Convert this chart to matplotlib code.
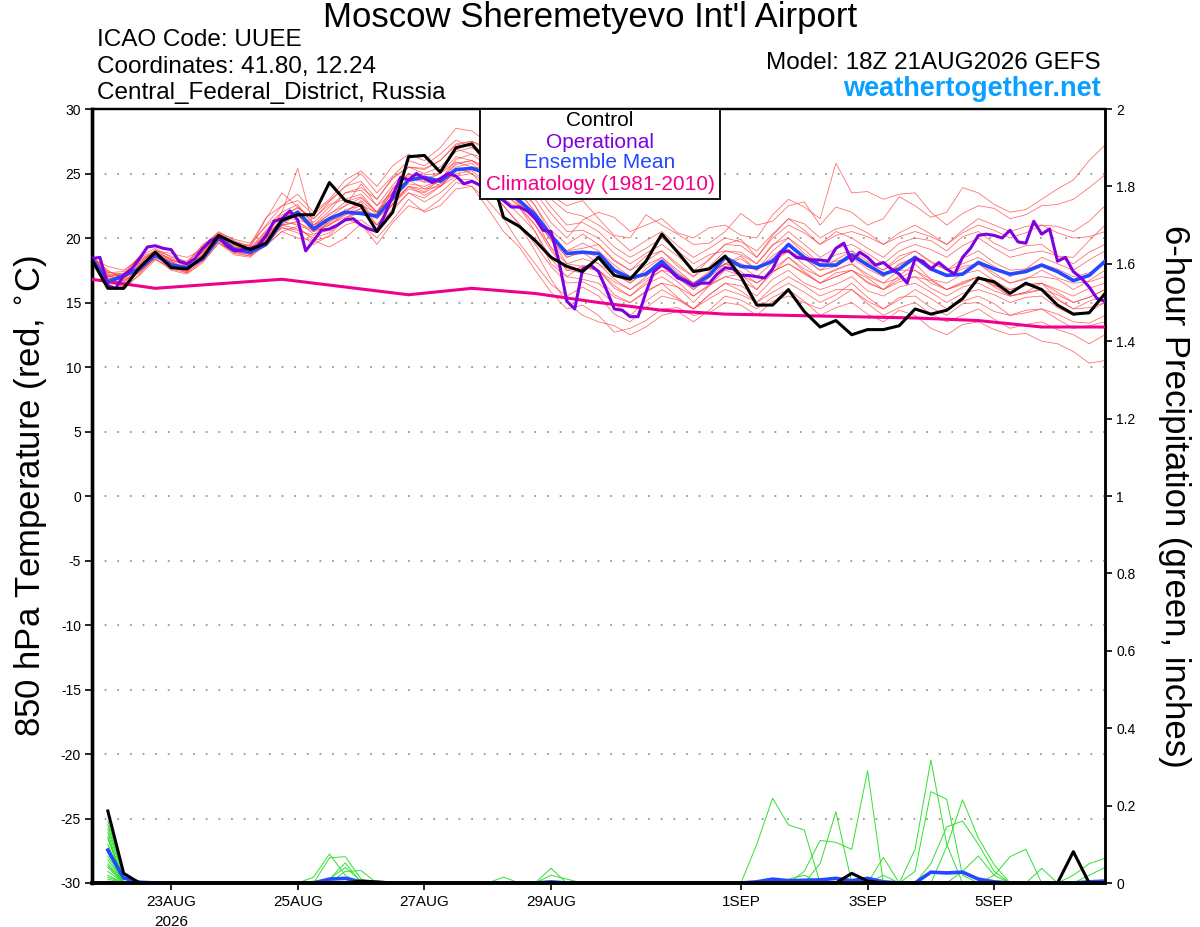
import numpy as np
import matplotlib
matplotlib.use('Agg')
import matplotlib.pyplot as plt
from matplotlib.patches import Rectangle

plt.rcParams['font.family'] = ['Liberation Sans', 'DejaVu Sans']
plt.rcParams['axes.unicode_minus'] = False

# ---------------------------------------------------------------- #
#   data (hours after 18Z 21AUG2026)
# ---------------------------------------------------------------- #
hrs6 = np.arange(0, 385, 6)
hrs3 = np.arange(0, 385, 3)
hrs24 = np.arange(0, 385, 24)

control = [18.3, 16.1, 16.1, 17.7, 18.9, 17.7, 17.6, 18.5, 20.2, 19.6,
           19.1, 19.6, 21.4, 21.8, 21.8, 24.3, 22.9, 22.5, 20.5, 22.0,
           26.3, 26.4, 25.1, 27.0, 27.3, 25.8, 21.6, 20.9, 19.8, 18.5,
           17.8, 17.4, 18.5, 17.1, 16.8, 18.2, 20.3, 18.9, 17.4, 17.6,
           18.6, 17.0, 14.8, 14.8, 16.0, 14.3, 13.1, 13.6, 12.5, 12.9,
           12.9, 13.2, 14.5, 14.1, 14.4, 15.3, 16.9, 16.6, 15.7, 16.5,
           16.0, 14.8, 14.1, 14.2, 15.7]

ens_mean = [18.4, 16.6, 17.1, 17.6, 18.7, 17.9, 17.7, 18.4, 20.0, 19.1,
            18.9, 19.5, 21.3, 22.0, 20.7, 21.5, 22.0, 21.9, 21.7, 23.1,
            24.5, 24.7, 24.4, 25.3, 25.4, 25.0, 23.8, 22.9, 21.8, 20.2,
            18.8, 18.9, 18.8, 17.5, 16.9, 17.2, 18.2, 17.0, 16.3, 17.1,
            18.5, 17.8, 17.7, 18.2, 19.5, 18.5, 17.9, 17.9, 18.7, 17.9,
            17.2, 17.6, 18.5, 17.6, 17.1, 17.2, 18.1, 17.6, 17.2, 17.4,
            17.9, 17.4, 16.7, 17.1, 18.2]

operational = [18.4, 18.5, 16.3, 16.1, 17.1, 17.6, 18.4, 19.3, 19.4, 19.2,
               19.1, 18.2, 18.0, 18.4, 19.2, 19.8, 20.1, 19.4, 19.0, 19.1,
               19.2, 19.4, 20.2, 21.3, 21.5, 22.1, 21.4, 19.0, 19.8, 20.6,
               20.7, 21.0, 21.4, 21.5, 21.0, 20.7, 20.5, 21.8, 23.3, 24.7,
               24.5, 25.0, 24.6, 24.3, 24.6, 25.0, 24.8, 24.2, 24.4, 24.1,
               24.3, 23.3, 22.9, 22.4, 22.4, 22.1, 21.5, 20.6, 20.5, 18.2,
               15.1, 14.5, 17.6, 17.9, 17.4, 16.0, 14.5, 14.4, 13.9, 13.9,
               15.8, 17.4, 17.9, 17.5, 16.9, 16.7, 16.3, 16.5, 16.5, 17.2,
               17.7, 17.6, 17.1, 17.1, 17.0, 16.9, 17.6, 18.9, 19.0, 18.5,
               18.4, 18.3, 18.3, 18.2, 19.2, 19.6, 18.2, 18.9, 18.5, 17.9,
               18.1, 17.6, 17.2, 16.5, 18.4, 18.2, 17.6, 18.1, 17.6, 17.2,
               18.5, 19.2, 20.2, 20.3, 20.2, 20.0, 20.6, 19.7, 19.6, 21.3,
               20.3, 20.7, 18.2, 18.5, 17.4, 16.9, 16.2, 15.3, 15.1]

climatology = [16.8, 16.1, 16.45, 16.8, 16.2, 15.6, 16.1, 15.7, 15.0,
               14.4, 14.1, 14.0, 13.9, 13.8, 13.6, 13.1, 13.1]

# ensemble members, 6-hourly (13 values per row)
members = [
    [18.3, 16.9, 16.5, 17.6, 18.9, 18.4, 18.0, 19.5, 20.3, 19.2, 19.5, 21.6, 22.5,
     23.4, 22.0, 23.0, 24.5, 25.2, 24.0, 25.6, 26.5, 26.0, 27.0, 28.5, 28.3, 27.4,
     26.0, 26.4, 25.0, 23.3, 22.5, 22.9, 21.5, 20.2, 20.0, 21.8, 21.0, 20.3, 19.5,
     19.6, 20.5, 21.9, 21.0, 21.3, 22.5, 22.8, 21.0, 22.4, 22.0, 21.0, 21.5, 23.2,
     22.5, 21.6, 22.0, 23.9, 23.5, 22.6, 22.0, 22.2, 23.0, 23.8, 24.5, 26.0, 27.2],
    [18.5, 17.4, 17.0, 18.2, 19.0, 18.8, 18.5, 19.1, 20.4, 19.9, 19.6, 20.9, 22.0,
     22.6, 21.0, 22.1, 23.5, 23.9, 23.0, 24.6, 25.5, 25.4, 26.0, 27.2, 27.5, 26.8,
     25.5, 24.6, 23.0, 21.2, 20.0, 21.4, 22.0, 21.6, 20.5, 21.0, 21.5, 20.4, 20.0,
     20.8, 21.0, 20.2, 20.0, 21.8, 23.0, 22.4, 21.5, 25.8, 23.5, 23.6, 23.0, 23.4,
     23.5, 22.0, 21.0, 21.9, 22.5, 22.3, 21.5, 21.8, 22.5, 22.6, 23.0, 23.9, 24.9],
    [18.2, 16.6, 16.2, 17.1, 18.3, 17.8, 17.3, 18.2, 19.6, 18.9, 18.6, 19.4, 20.5,
     20.9, 19.8, 20.1, 21.0, 21.4, 20.5, 22.3, 23.5, 22.8, 23.5, 24.6, 24.5, 23.9,
     22.5, 21.0, 19.0, 16.8, 15.0, 14.0, 13.5, 13.2, 12.5, 13.1, 14.0, 14.3, 13.5,
     14.4, 15.5, 15.2, 14.5, 15.4, 16.0, 15.1, 14.0, 14.6, 15.0, 14.1, 13.5, 14.4,
     14.0, 13.0, 12.5, 13.3, 13.5, 12.9, 12.5, 12.6, 12.0, 11.8, 11.2, 10.3, 10.5],
    [18.4, 17.0, 17.3, 18.0, 18.7, 18.1, 17.6, 18.6, 19.9, 19.4, 18.9, 19.8, 21.0,
     21.9, 20.5, 21.0, 22.0, 22.8, 21.0, 22.6, 24.0, 23.6, 24.5, 25.7, 26.0, 25.0,
     23.5, 22.4, 20.5, 18.0, 17.0, 17.9, 17.5, 16.1, 15.5, 16.4, 17.0, 16.2, 15.0,
     16.3, 17.5, 17.1, 16.5, 17.4, 18.0, 17.2, 16.5, 17.3, 17.5, 16.6, 16.0, 16.8,
     17.0, 16.1, 15.5, 16.2, 16.5, 15.9, 15.5, 15.8, 16.0, 15.2, 14.5, 15.1, 15.5],
    [18.6, 17.5, 16.8, 18.0, 19.1, 18.3, 17.9, 19.0, 20.2, 19.6, 19.2, 20.6, 21.8,
     22.3, 21.5, 22.6, 23.0, 23.4, 22.0, 23.8, 25.0, 24.6, 25.0, 26.9, 26.5, 26.1,
     25.0, 24.1, 22.5, 20.6, 19.5, 20.3, 19.5, 18.2, 17.5, 18.6, 19.0, 18.0, 17.0,
     18.4, 19.5, 19.4, 18.5, 20.0, 21.0, 20.4, 19.5, 20.5, 20.0, 19.2, 18.5, 19.6,
     20.0, 19.8, 19.0, 20.1, 20.5, 19.6, 19.0, 19.4, 19.5, 18.6, 18.0, 18.9, 19.5],
    [18.1, 16.3, 16.0, 17.2, 18.5, 17.9, 17.4, 18.6, 19.7, 18.8, 18.6, 20.0, 20.8,
     20.4, 19.5, 20.2, 21.5, 21.0, 20.0, 21.4, 23.0, 22.0, 22.5, 23.8, 24.0, 22.9,
     21.5, 19.6, 18.0, 16.4, 15.5, 16.2, 15.5, 14.1, 13.5, 14.6, 15.5, 15.2, 14.5,
     15.3, 16.0, 15.6, 15.0, 16.2, 17.0, 16.3, 15.5, 16.0, 16.0, 15.1, 14.5, 15.4,
     15.5, 14.6, 14.0, 14.9, 15.0, 14.3, 14.0, 14.4, 14.5, 13.7, 13.0, 13.2, 13.5],
    [18.4, 17.8, 17.5, 18.4, 18.9, 18.0, 17.8, 19.2, 20.1, 19.1, 19.0, 20.3, 22.0,
     25.4, 20.8, 21.9, 22.5, 24.2, 22.5, 23.5, 24.5, 24.8, 24.0, 25.2, 25.5, 25.1,
     24.5, 23.5, 22.0, 20.0, 18.5, 18.9, 18.0, 17.2, 16.5, 17.6, 18.5, 17.3, 16.5,
     17.2, 18.0, 18.4, 17.5, 18.6, 19.5, 18.4, 17.5, 18.3, 19.0, 17.9, 17.0, 18.0,
     18.5, 17.6, 17.0, 17.8, 18.0, 17.1, 16.5, 16.9, 17.0, 16.8, 16.0, 16.7, 17.5],
    [18.3, 16.6, 16.9, 17.8, 18.6, 18.2, 17.5, 18.5, 20.0, 19.3, 18.7, 19.6, 21.0,
     21.3, 20.3, 20.6, 21.5, 22.3, 21.5, 22.9, 24.0, 23.3, 24.0, 25.4, 25.0, 24.2,
     23.0, 22.3, 21.0, 19.0, 17.5, 17.3, 17.0, 15.6, 15.0, 15.9, 16.5, 15.4, 14.5,
     15.6, 16.5, 16.3, 15.5, 16.8, 17.5, 16.5, 16.0, 16.4, 17.0, 15.9, 15.5, 16.2,
     16.5, 15.8, 15.0, 15.7, 16.0, 15.6, 15.0, 15.4, 15.5, 14.6, 14.0, 14.3, 15.0],
    [18.5, 17.1, 17.2, 18.6, 19.2, 18.5, 18.2, 19.4, 20.5, 19.8, 19.3, 21.5, 23.5,
     22.4, 21.5, 22.8, 24.0, 25.0, 23.5, 24.8, 26.0, 25.6, 26.5, 27.6, 27.0, 26.7,
     26.0, 25.3, 24.0, 22.4, 21.0, 21.2, 20.5, 19.3, 18.5, 19.2, 20.0, 19.0, 18.0,
     18.7, 19.0, 18.9, 18.0, 19.4, 20.5, 19.5, 18.5, 19.2, 19.5, 18.8, 18.0, 19.0,
     19.5, 19.1, 18.5, 19.4, 20.0, 19.2, 18.5, 18.8, 19.0, 18.6, 18.5, 19.8, 21.0],
    [18.2, 16.8, 16.4, 17.4, 18.4, 17.6, 17.3, 18.3, 19.8, 18.9, 18.8, 19.5, 20.5,
     20.0, 19.8, 19.3, 20.0, 21.1, 19.5, 21.2, 22.5, 22.1, 23.0, 24.3, 24.0, 22.3,
     20.5, 19.3, 17.5, 15.8, 14.5, 14.8, 14.0, 12.7, 13.0, 13.6, 14.5, 14.6, 14.0,
     14.2, 15.0, 14.8, 14.0, 15.1, 15.5, 15.0, 14.5, 15.2, 16.0, 14.9, 14.0, 14.6,
     15.0, 14.1, 13.5, 14.0, 14.5, 13.7, 13.0, 13.3, 13.5, 12.9, 12.5, 11.8, 12.5],
    [18.6, 17.2, 17.0, 17.9, 18.8, 18.0, 17.7, 19.0, 20.2, 19.3, 19.1, 20.2, 21.5,
     22.1, 21.0, 21.6, 22.5, 23.1, 22.0, 23.5, 25.0, 24.3, 24.5, 25.8, 26.0, 25.3,
     24.0, 22.6, 21.5, 19.8, 18.5, 19.0, 18.5, 17.4, 16.5, 17.4, 18.0, 17.1, 16.0,
     17.2, 18.5, 18.0, 17.5, 18.4, 19.0, 17.9, 17.0, 17.6, 18.0, 17.2, 16.5, 17.5,
     17.5, 16.8, 16.5, 17.2, 17.5, 16.7, 16.0, 16.3, 16.5, 16.0, 15.5, 16.1, 16.5],
    [18.3, 16.4, 16.6, 17.7, 18.5, 18.1, 17.6, 18.7, 19.8, 19.2, 18.9, 20.4, 21.2,
     21.8, 20.5, 21.0, 21.8, 22.6, 21.5, 23.2, 24.5, 24.4, 25.0, 25.9, 25.5, 25.4,
     24.5, 23.8, 22.5, 20.2, 19.0, 19.6, 19.0, 17.9, 17.0, 17.9, 18.5, 17.5, 16.5,
     17.4, 18.0, 18.6, 17.5, 19.0, 20.0, 19.1, 18.0, 18.2, 18.5, 18.1, 17.5, 18.6,
     19.0, 18.2, 17.5, 18.4, 19.0, 18.1, 17.5, 17.6, 18.0, 17.6, 17.0, 17.3, 18.0],
    [18.4, 17.0, 17.1, 18.1, 18.9, 18.3, 17.9, 18.9, 20.1, 19.5, 19.0, 20.0, 21.5,
     22.4, 21.2, 22.4, 23.5, 23.7, 22.5, 24.1, 25.5, 25.0, 25.5, 26.7, 27.0, 26.2,
     25.0, 24.3, 23.5, 21.9, 20.5, 20.6, 20.0, 18.8, 18.0, 18.8, 19.5, 18.6, 17.5,
     18.3, 19.5, 19.9, 18.5, 20.2, 21.5, 20.6, 19.5, 20.2, 20.5, 20.1, 19.5, 20.4,
     21.0, 20.3, 19.5, 20.4, 21.0, 20.6, 20.0, 20.4, 21.0, 20.9, 20.5, 21.3, 22.5],
    [18.5, 16.9, 16.7, 17.5, 18.6, 17.9, 17.5, 18.4, 19.9, 19.0, 18.7, 19.8, 21.0,
     20.7, 20.0, 20.4, 21.5, 22.0, 21.0, 22.1, 23.5, 23.1, 24.0, 24.8, 25.0, 23.7,
     22.5, 21.1, 19.5, 17.8, 16.5, 16.6, 16.0, 14.9, 14.0, 15.1, 16.0, 15.3, 14.5,
     15.6, 16.5, 15.9, 15.0, 15.8, 16.5, 15.8, 15.0, 15.6, 16.5, 15.4, 14.5, 15.2,
     16.0, 15.3, 14.5, 15.1, 15.5, 14.9, 14.0, 14.2, 14.5, 14.1, 13.5, 13.4, 14.0],
    [18.2, 16.5, 16.3, 17.4, 18.4, 17.5, 17.2, 18.1, 19.6, 18.7, 18.5, 19.6, 20.8,
     20.6, 20.2, 21.3, 21.8, 22.3, 21.0, 22.7, 24.0, 23.8, 24.5, 26.1, 26.5, 25.6,
     24.5, 23.0, 21.5, 19.2, 17.5, 17.7, 17.5, 16.3, 15.5, 16.6, 17.5, 16.6, 15.5,
     16.4, 17.0, 17.2, 16.0, 17.3, 18.5, 17.4, 16.5, 17.0, 17.5, 16.5, 16.0, 17.1,
     18.0, 16.8, 16.0, 16.6, 17.0, 16.2, 15.5, 15.7, 16.0, 15.6, 15.0, 15.4, 16.0],
    [18.6, 17.3, 17.4, 18.5, 19.0, 18.6, 18.1, 19.3, 20.4, 19.7, 19.4, 21.0, 22.5,
     22.9, 21.8, 22.9, 24.0, 24.4, 23.0, 24.7, 25.5, 25.3, 26.0, 27.3, 27.5, 27.0,
     26.5, 25.8, 24.5, 23.0, 22.0, 21.7, 21.0, 20.1, 19.0, 19.8, 20.5, 19.4, 18.5,
     19.2, 20.0, 19.7, 19.0, 20.3, 21.5, 21.1, 20.0, 20.7, 21.0, 20.4, 19.5, 20.1,
     20.5, 20.1, 19.5, 20.6, 21.5, 21.0, 20.5, 20.9, 21.0, 20.4, 20.0, 20.1, 20.5],
    [18.3, 17.0, 16.8, 17.8, 18.7, 18.2, 17.6, 18.8, 20.0, 19.2, 18.9, 20.1, 21.3,
     21.0, 20.5, 21.4, 22.0, 22.9, 21.8, 23.6, 24.5, 23.8, 24.0, 25.3, 25.5, 24.7,
     23.5, 22.5, 21.0, 19.3, 18.0, 18.4, 18.0, 16.8, 16.0, 17.0, 18.0, 16.9, 16.0,
     16.9, 18.0, 17.8, 17.0, 18.1, 19.0, 18.4, 17.5, 17.8, 18.5, 17.6, 17.0, 17.9,
     18.5, 17.8, 17.0, 17.6, 18.0, 17.3, 16.5, 16.8, 17.5, 16.9, 16.5, 16.6, 17.0],
    [18.4, 17.3, 17.2, 18.3, 18.8, 18.3, 17.8, 19.1, 20.2, 19.5, 19.1, 20.5, 21.6,
     21.4, 21.0, 21.8, 22.8, 23.2, 22.0, 23.9, 24.8, 24.9, 25.0, 26.3, 26.0, 25.5,
     24.5, 23.6, 22.0, 20.1, 19.0, 19.2, 19.5, 18.3, 17.5, 18.2, 19.0, 17.8, 17.0,
     17.8, 19.0, 18.7, 18.0, 19.5, 20.0, 18.8, 18.0, 18.7, 19.0, 18.2, 17.5, 18.3,
     19.0, 18.1, 17.5, 18.0, 18.5, 17.8, 17.0, 17.6, 18.5, 18.0, 17.5, 18.3, 19.0],
    [18.5, 16.5, 16.9, 17.6, 18.8, 17.9, 17.7, 18.7, 20.1, 19.6, 19.0, 20.0, 21.4,
     21.7, 20.8, 21.2, 22.2, 22.5, 22.0, 23.2, 24.2, 24.0, 24.5, 25.5, 25.8, 24.6,
     23.8, 22.7, 21.5, 19.9, 18.0, 17.8, 17.5, 16.6, 16.0, 16.8, 17.5, 17.2, 16.5,
     17.3, 18.0, 17.4, 16.5, 17.4, 18.0, 17.3, 16.5, 17.0, 17.5, 16.9, 16.0, 16.6,
     17.0, 16.7, 16.0, 16.5, 17.0, 16.3, 16.0, 16.4, 16.5, 15.8, 15.0, 15.4, 16.0],
    [18.3, 17.1, 16.7, 17.3, 18.6, 17.7, 17.4, 18.5, 19.9, 19.1, 18.8, 19.9, 21.0,
     21.2, 20.6, 21.1, 21.6, 22.1, 21.5, 22.6, 23.8, 23.5, 24.2, 25.0, 25.2, 24.3,
     23.0, 21.8, 20.5, 18.4, 17.0, 16.8, 16.5, 15.4, 15.0, 15.8, 16.5, 16.2, 15.5,
     16.3, 17.0, 16.7, 16.0, 17.6, 18.5, 17.6, 17.0, 17.5, 18.0, 17.0, 16.5, 16.9,
     17.5, 16.5, 16.0, 16.4, 17.0, 16.4, 15.5, 15.8, 16.5, 15.3, 14.5, 14.6, 15.0],
]

# 6-hour precipitation, inches: {6h step index: amount}, zero elsewhere
precip_members = [
    {1: 0.160, 2: 0.020, 14: 0.015, 15: 0.075, 16: 0.020},
    {1: 0.150, 2: 0.015, 15: 0.065, 16: 0.068, 17: 0.010},
    {1: 0.140, 2: 0.010, 15: 0.010, 16: 0.052},
    {1: 0.130, 16: 0.030, 17: 0.032},
    {1: 0.120, 14: 0.005, 15: 0.010, 16: 0.040, 17: 0.005},
    {1: 0.115, 26: 0.015},
    {1: 0.100, 29: 0.038},
    {1: 0.090, 29: 0.020, 30: 0.010},
    {1: 0.085, 42: 0.100, 43: 0.219, 44: 0.150, 45: 0.137},
    {1: 0.080, 45: 0.030, 46: 0.110, 47: 0.105, 48: 0.087, 49: 0.290},
    {1: 0.070, 46: 0.050, 47: 0.184},
    {1: 0.060, 50: 0.066, 52: 0.087, 53: 0.318, 54: 0.100},
    {1: 0.050, 52: 0.030, 53: 0.236, 54: 0.216, 55: 0.020},
    {1: 0.045, 53: 0.050, 54: 0.145, 55: 0.160, 56: 0.100, 57: 0.030},
    {1: 0.040, 54: 0.094, 55: 0.215, 56: 0.116, 57: 0.047},
    {1: 0.030, 57: 0.020, 58: 0.068, 59: 0.087},
    {1: 0.020, 60: 0.038, 62: 0.020, 63: 0.050, 64: 0.064},
    {1: 0.015, 44: 0.010, 45: 0.020, 50: 0.020},
    {1: 0.010, 63: 0.020, 64: 0.040},
    {1: 0.005, 55: 0.030, 56: 0.070, 57: 0.020},
]
precip_control = {1: 0.186, 2: 0.025, 17: 0.005, 18: 0.003, 48: 0.025, 49: 0.005, 62: 0.081}
precip_mean = {1: 0.085, 2: 0.013, 3: 0.002, 15: 0.010, 16: 0.012, 17: 0.003, 29: 0.003,
               42: 0.003, 43: 0.010, 44: 0.006, 45: 0.007, 46: 0.008, 47: 0.012, 48: 0.006,
               49: 0.012, 50: 0.003, 53: 0.028, 54: 0.026, 55: 0.028, 56: 0.010, 57: 0.003,
               63: 0.003, 64: 0.005}

tick_hours = [30, 78, 126, 174, 246, 294, 342]
tick_labels = ['23AUG\n2026', '25AUG', '27AUG', '29AUG', '1SEP', '3SEP', '5SEP']
temp_ticks = np.arange(-30, 31, 5)
precip_ticks = [0, 0.2, 0.4, 0.6, 0.8, 1.0, 1.2, 1.4, 1.6, 1.8, 2.0]
precip_ticklabels = ['0', '0.2', '0.4', '0.6', '0.8', '1', '1.2', '1.4', '1.6', '1.8', '2']

COL_MEM = '#ff4040'
COL_PCP = '#30e030'
COL_OPER = '#8000e0'
COL_MEAN = '#2448ff'
COL_CLIM = '#f0008c'


def series(d):
    a = np.zeros(len(hrs6))
    for k, v in d.items():
        a[k] = v
    return a


W, H = 1200, 927
fig = plt.figure(figsize=(12, 9.27), dpi=100)
ax1 = fig.add_axes([92 / W, 1 - 883 / H, (1105 - 92) / W, (883 - 109) / H])
ax2 = ax1.twinx()

# precipitation on the right axis
for d in precip_members:
    ax2.plot(hrs6[1:], series(d)[1:], color=COL_PCP, lw=0.7, zorder=1)
ax2.plot(hrs6[1:], series(precip_mean)[1:], color=COL_MEAN, lw=2.6, zorder=3)
ax2.plot(hrs6[1:], series(precip_control)[1:], color='black', lw=2.2, zorder=4)
ax2.set_ylim(0, 2)
ax2.set_yticks(precip_ticks)
ax2.set_yticklabels(precip_ticklabels)

# temperature on the left axis (draw above the twin)
ax1.set_zorder(ax2.get_zorder() + 1)
ax1.patch.set_visible(False)
for m in members:
    ax1.plot(hrs6[:len(m)], m, color=COL_MEM, lw=0.55, alpha=0.8, zorder=1)
ax1.plot(hrs24, climatology, color=COL_CLIM, lw=2.2, zorder=3)
ax1.plot(hrs6, ens_mean, color=COL_MEAN, lw=2.6, zorder=4)
ax1.plot(hrs3, operational, color=COL_OPER, lw=2.2, zorder=5)
ax1.plot(hrs6, control, color='black', lw=2.2, zorder=6)

ax1.set_xlim(0, 384)
ax1.set_ylim(-30, 30)
ax1.set_yticks(temp_ticks)
ax1.set_xticks(tick_hours)
ax1.set_xticklabels(tick_labels, fontsize=11, linespacing=1.5)
for t in temp_ticks[1:-1]:
    ax1.axhline(t, color='0.6', lw=1.3, ls=(0, (1, 6)), zorder=0)

ax1.tick_params(axis='y', labelsize=10, length=5, width=1.2, direction='out', pad=3)
ax1.tick_params(axis='x', length=5, width=1.2, direction='out', pad=4)
ax2.tick_params(axis='y', labelsize=10, length=5, width=1.2, direction='out', pad=3)

for a in (ax1, ax2):
    a.spines['left'].set_linewidth(2.4)
    a.spines['bottom'].set_linewidth(2.6)
    a.spines['top'].set_linewidth(1.6)
    a.spines['right'].set_linewidth(1.8)

ax1.set_ylabel('850 hPa Temperature (red, $^{\\circ}$C)', fontsize=25, va='center')
ax1.yaxis.set_label_coords((31 - 92) / 1013, 0.5)
ax2.set_ylabel('6-hour Precipitation (green, inches)', fontsize=25, rotation=270, va='center')
ax2.yaxis.set_label_coords((1175 - 92) / 1013, 0.5)


# header texts
def fx(px):
    return px / W


def fy(py):
    return 1 - py / H


fig.text(fx(590), fy(18), "Moscow Sheremetyevo Int'l Airport", fontsize=25, ha='center', va='center')
fig.text(fx(97), fy(40), 'ICAO Code: UUEE', fontsize=17.5, ha='left', va='center')
fig.text(fx(97), fy(67), 'Coordinates: 41.80, 12.24', fontsize=17.5, ha='left', va='center')
fig.text(fx(97), fy(93), 'Central_Federal_District, Russia', fontsize=17.5, ha='left', va='center')
fig.text(fx(1101), fy(63), 'Model: 18Z 21AUG2026 GEFS', fontsize=17.5, ha='right', va='center')
fig.text(fx(1101), fy(89), 'weathertogether.net', fontsize=19.5, fontweight='bold',
         color='#0aa0ff', ha='right', va='center')

# legend box
box = Rectangle((fx(480), fy(199)), fx(720) - fx(480), fy(109) - fy(199),
                transform=fig.transFigure, facecolor='white', edgecolor='black', lw=1.3, zorder=10)
fig.patches.append(box)
leg_items = [('Control', 'black', 121), ('Operational', COL_OPER, 142),
             ('Ensemble Mean', COL_MEAN, 163), ('Climatology (1981-2010)', COL_CLIM, 185)]
for txt, c, py in leg_items:
    fig.text(fx(600), fy(py), txt, color=c, fontsize=15, ha='center', va='center', zorder=11)

fig.savefig('out.png', dpi=100)
